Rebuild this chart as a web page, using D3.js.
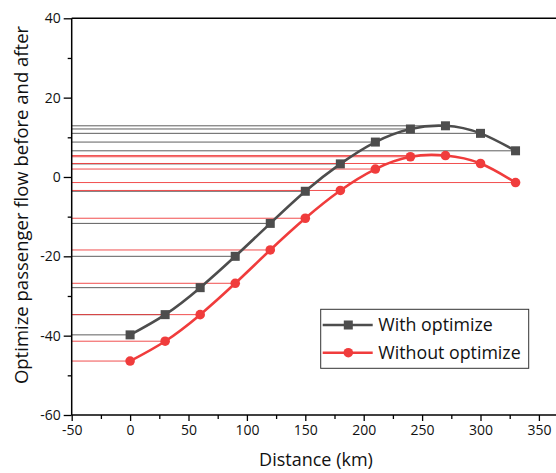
<!DOCTYPE html>
<html><head><meta charset="utf-8">
<script src="https://cdn.jsdelivr.net/npm/d3@7"></script>
<style>body{margin:0;background:#fff}svg{display:block}text{font-family:"Open Sans",sans-serif}</style>
</head><body>
<svg id="c" width="556" height="473"></svg>
<script>
const distances = [0, 30, 60, 90, 120, 150, 180, 210, 240, 270, 300, 330];
const withOptimize = [-39.8, -34.7, -27.9, -20.0, -11.7, -3.6, 3.3, 8.8, 12.1, 12.9, 11.0, 6.6];
const withoutOptimize = [-46.4, -41.4, -34.7, -26.8, -18.4, -10.4, -3.4, 2.0, 5.1, 5.4, 3.4, -1.4];
const seriesNames = ["With optimize", "Without optimize"];
const xTicks = [-50, 0, 50, 100, 150, 200, 250, 300, 350];
const yTicks = [-60, -40, -20, 0, 20, 40];

const svg = d3.select("#c");
const x = d3.scaleLinear().domain([-50, 400]).range([71.7, 597.3]);
const y = d3.scaleLinear().domain([-60, 40]).range([415, 18.3]);
const colors = ["#4d4d4d", "#f03c3c"];
const series = [withOptimize, withoutOptimize];
const fmt = d => String(d);

// horizontal reference lines from y-axis to each point
series.forEach((vals, si) => {
  svg.append("g").selectAll("line").data(vals).join("line")
    .attr("x1", x(-50)).attr("x2", (d, i) => x(distances[i]))
    .attr("y1", d => y(d)).attr("y2", d => y(d))
    .attr("stroke", colors[si]).attr("stroke-width", 1).attr("stroke-opacity", 0.9);
});

// axes
const xAxis = svg.append("g").attr("transform", `translate(0,${y(-60)})`)
  .call(d3.axisBottom(x).tickValues(xTicks).tickSize(6).tickPadding(4).tickFormat(fmt));
xAxis.select(".domain").remove();
svg.append("g").attr("transform", `translate(0,${y(-60)})`)
  .call(d3.axisBottom(x).tickValues(d3.range(-25, 376, 50)).tickSize(4).tickFormat(""))
  .select(".domain").remove();
const yAxis = svg.append("g").attr("transform", `translate(${x(-50)},0)`)
  .call(d3.axisLeft(y).tickValues(yTicks).tickSize(8).tickPadding(3).tickFormat(fmt));
yAxis.select(".domain").remove();
svg.append("g").attr("transform", `translate(${x(-50)},0)`)
  .call(d3.axisLeft(y).tickValues(d3.range(-50, 40, 20)).tickSize(4).tickFormat(""))
  .select(".domain").remove();
svg.selectAll(".tick line").attr("stroke", "#000").attr("stroke-width", 1.3);
svg.selectAll(".tick text").attr("font-size", 14).attr("fill", "#111").attr("font-family", "Open Sans");

// frame lines
svg.append("line").attr("x1", x(-50)).attr("x2", 556).attr("y1", y(-60)).attr("y2", y(-60)).attr("stroke", "#000").attr("stroke-width", 1.5);
svg.append("line").attr("x1", x(-50)).attr("x2", 556).attr("y1", y(40)).attr("y2", y(40)).attr("stroke", "#000").attr("stroke-width", 1.5);
svg.append("line").attr("x1", x(-50)).attr("x2", x(-50)).attr("y1", y(40)).attr("y2", y(-60)).attr("stroke", "#000").attr("stroke-width", 1.5);

// curves
const line = d3.line().x((d, i) => x(distances[i])).y(d => y(d)).curve(d3.curveNatural);
series.forEach((vals, si) => {
  svg.append("path").datum(vals).attr("d", line).attr("fill", "none")
    .attr("stroke", colors[si]).attr("stroke-width", 2.6);
});
svg.append("g").selectAll("rect").data(withOptimize).join("rect")
  .attr("x", (d, i) => x(distances[i]) - 4.5).attr("y", d => y(d) - 4.5)
  .attr("width", 9).attr("height", 9).attr("fill", colors[0]);
svg.append("g").selectAll("circle").data(withoutOptimize).join("circle")
  .attr("cx", (d, i) => x(distances[i])).attr("cy", d => y(d)).attr("r", 4.8).attr("fill", colors[1]);

// axis titles
svg.append("text").attr("x", 316).attr("y", 466).attr("text-anchor", "middle")
  .attr("font-size", 18).attr("fill", "#111").text("Distance (km)");
svg.append("text").attr("transform", "translate(28,205) rotate(-90)").attr("text-anchor", "middle")
  .attr("font-size", 18.5).attr("fill", "#111").text("Optimize passenger flow before and after");

// legend
const lg = svg.append("g");
lg.append("rect").attr("x", 320.7).attr("y", 309.3).attr("width", 208).attr("height", 59)
  .attr("fill", "#fff").attr("stroke", "#333").attr("stroke-width", 1);
[325, 352.7].forEach((ly, i) => {
  lg.append("line").attr("x1", 322.7).attr("x2", 372.7).attr("y1", ly).attr("y2", ly)
    .attr("stroke", colors[i]).attr("stroke-width", 2.6);
  if (i === 0) lg.append("rect").attr("x", 348.3 - 4.5).attr("y", ly - 4.5).attr("width", 9).attr("height", 9).attr("fill", colors[0]);
  else lg.append("circle").attr("cx", 348.3).attr("cy", ly).attr("r", 4.8).attr("fill", colors[1]);
  lg.append("text").attr("x", 378.3).attr("y", ly + 6.3).attr("font-size", 17.8).attr("fill", "#111").text(seriesNames[i]);
});
</script>
</body></html>
